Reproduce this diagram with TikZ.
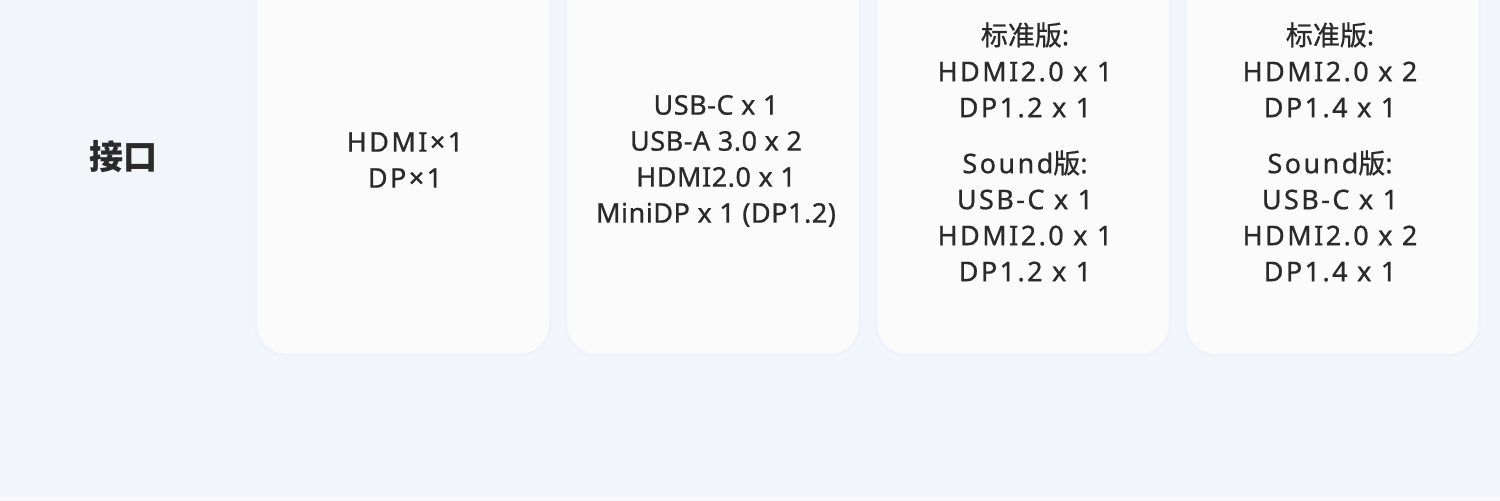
\documentclass[tikz,border=0pt]{standalone}
\usepackage{fontspec}
\setmainfont{Noto Sans}
\newfontfamily\latA[FakeBold=0.8,LetterSpace=2]{Noto Sans}
\newfontfamily\latB[FakeBold=0.8,LetterSpace=9]{Noto Sans}
\newfontfamily\cjk[FakeBold=0.8]{Noto Sans CJK SC}
\newfontfamily\cjkbold{Noto Sans CJK SC}
\definecolor{bg}{HTML}{F2F5FA}
\definecolor{cardfill}{HTML}{FBFBFC}
\definecolor{cardedge}{HTML}{EEF2FA}
\definecolor{txt}{HTML}{2A2A2A}
\definecolor{strip}{HTML}{FAFAFB}
\tikzset{
  cardbox/.style={draw=cardedge, line width=1.2pt, fill=cardfill, rounded corners=15pt,
    minimum width=147pt, minimum height=202.5pt, inner sep=0pt},
  cardtext/.style={text=txt, align=center, inner sep=0pt, font=\latA\fontsize{13.5}{18}\selectfont},
  spacedtext/.style={cardtext, font=\latB\fontsize{13.5}{18}\selectfont},
  rowlabel/.style={text=txt, inner sep=0pt, font=\cjkbold\bfseries\fontsize{17}{18}\selectfont}
}
\begin{document}
\begin{tikzpicture}[x=0.5pt,y=-0.5pt]
\useasboundingbox (0,0) rectangle (1500,501);
\fill[bg] (0,0) rectangle (1500,501);
\fill[strip] (0,497) rectangle (1500,501);
\begin{scope}
\clip (0,0) rectangle (1500,501);
\node[cardbox] (k1) at (403,152.5) {};
\node[cardbox] (k2) at (713,152.5) {};
\node[cardbox] (k3) at (1023,152.5) {};
\node[cardbox] (k4) at (1332.5,152.5) {};
\end{scope}
\node[rowlabel] (lab) at (123,157) {接口};
\node[spacedtext] (t1) at (405,160) {HDMI×1\\DP×1};
\node[cardtext] (t2) at (716,161) {USB-C x 1\\USB-A 3.0 x 2\\HDMI2.0 x 1\\MiniDP x 1 (DP1.2)};
\node[spacedtext] (t3) at (1025,152) {{\cjk 标准版}:\\HDMI2.0 x 1\\DP1.2 x 1\\[10pt]Sound{\cjk 版}:\\USB-C x 1\\HDMI2.0 x 1\\DP1.2 x 1};
\node[spacedtext] (t4) at (1330,152) {{\cjk 标准版}:\\HDMI2.0 x 2\\DP1.4 x 1\\[10pt]Sound{\cjk 版}:\\USB-C x 1\\HDMI2.0 x 2\\DP1.4 x 1};
\end{tikzpicture}
\end{document}
